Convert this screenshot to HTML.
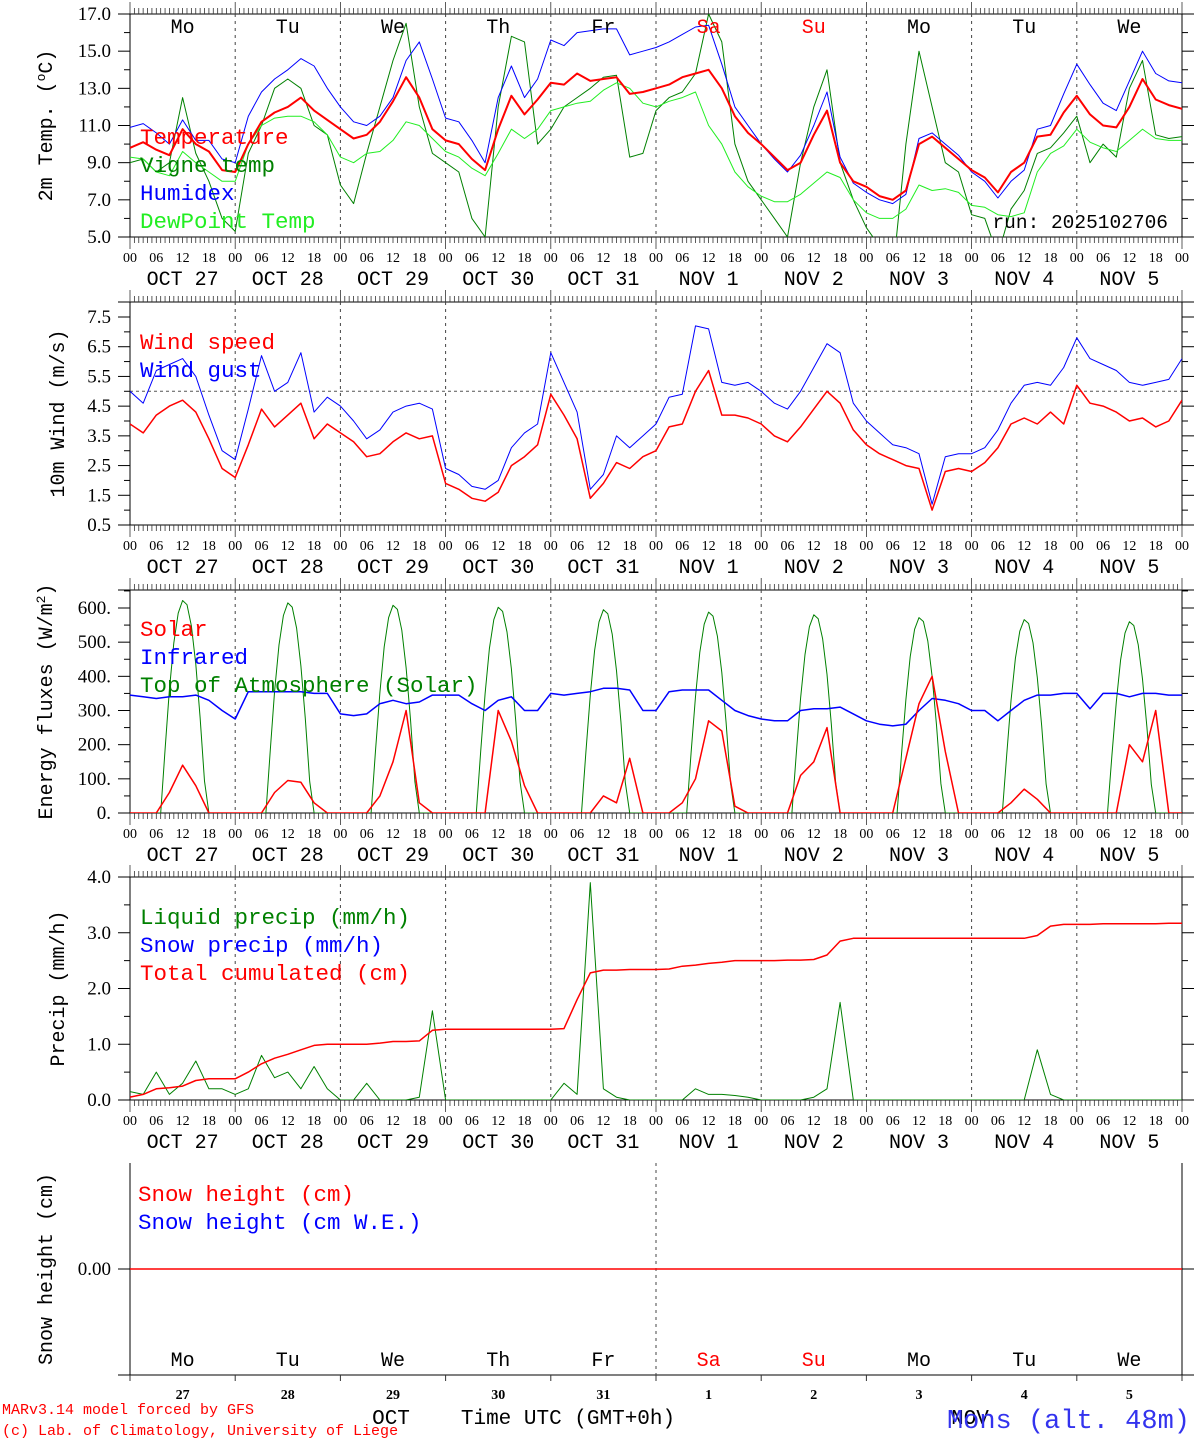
<!DOCTYPE html>
<html><head><meta charset="utf-8">
<style>
html,body{margin:0;padding:0;background:#fff;}
svg{display:block;}
text{font-family:"Liberation Serif",serif;}
.mono{font-family:"Liberation Mono",monospace;}
</style></head>
<body>
<svg id="chart" width="1194" height="1440" viewBox="0 0 1194 1440" xmlns="http://www.w3.org/2000/svg"></svg>
<script>
// ---------- data (3-hourly, hours 0..240 from 27 Oct 00 UTC) ----------
const hours3 = [0,3,6,9,12,15,18,21,24,27,30,33,36,39,42,45,48,51,54,57,60,63,66,69,72,75,78,81,84,87,90,93,96,99,102,105,108,111,114,117,120,123,126,129,132,135,138,141,144,147,150,153,156,159,162,165,168,171,174,177,180,183,186,189,192,195,198,201,204,207,210,213,216,219,222,225,228,231,234,237,240];
const dayNames = ["Mo","Tu","We","Th","Fr","Sa","Su","Mo","Tu","We"];
const dayNums = ["27","28","29","30","31","1","2","3","4","5"];
const dateLabels = ["OCT 27","OCT 28","OCT 29","OCT 30","OCT 31","NOV  1","NOV  2","NOV  3","NOV  4","NOV  5"];
const hourLabels = ["00","06","12","18"];

const temperature = [9.8,10.1,9.7,9.4,10.8,10.0,9.6,8.6,8.5,10.0,11.2,11.7,12.0,12.5,11.8,11.3,10.8,10.3,10.5,11.2,12.3,13.6,12.5,10.8,10.2,10.0,9.2,8.6,10.8,12.6,11.6,12.4,13.3,13.2,13.8,13.4,13.5,13.6,12.7,12.8,13.0,13.2,13.6,13.8,14.0,13.0,11.5,10.6,10.0,9.3,8.6,9.0,10.5,11.8,9.0,8.0,7.7,7.2,7.0,7.5,10.0,10.4,9.8,9.2,8.6,8.2,7.4,8.5,9.0,10.4,10.5,11.7,12.6,11.6,11.0,10.9,12.0,13.5,12.4,12.1,11.9];
const humidex = [10.9,11.1,10.6,10.0,11.3,10.2,10.2,9.2,9.0,11.5,12.8,13.5,14.0,14.6,14.2,13.0,12.0,11.2,11.0,11.5,12.5,14.5,15.5,13.5,11.4,11.2,10.2,9.0,12.5,14.2,12.5,13.5,15.6,15.3,16.0,16.1,16.2,16.2,14.8,15.0,15.2,15.5,15.9,16.3,16.4,14.3,12.0,11.0,10.0,9.2,8.5,9.4,11.0,12.8,9.3,7.9,7.4,7.0,6.8,7.3,10.3,10.6,10.0,9.4,8.5,8.0,7.1,8.0,8.6,10.8,11.0,12.7,14.3,13.2,12.2,11.8,13.4,15.0,13.8,13.4,13.3];
const dewpoint = [9.3,9.2,8.5,8.3,9.6,9.0,8.5,8.0,8.0,10.0,11.0,11.4,11.5,11.5,11.2,10.5,9.3,9.0,9.5,9.6,10.2,11.2,11.0,10.3,9.6,9.3,8.7,8.3,9.5,10.8,10.3,10.8,11.8,12.0,12.2,12.3,12.9,13.3,13.0,12.2,12.0,12.3,12.5,12.8,11.0,10.0,8.5,7.7,7.2,6.9,6.9,7.3,7.9,8.5,8.2,7.0,6.3,6.0,6.0,6.5,7.8,7.5,7.6,7.4,6.7,6.6,6.2,6.1,6.3,8.5,9.5,9.9,10.8,10.1,9.8,9.6,10.2,10.8,10.3,10.2,10.2];
const vigne = [9.0,9.2,8.5,9.0,12.5,9.5,8.0,6.0,5.3,9.5,11.0,13.0,13.5,13.0,11.0,10.5,7.8,6.8,9.5,12.0,14.5,16.5,12.0,9.5,9.0,8.5,6.0,5.0,12.0,15.8,15.5,10.0,10.8,12.0,12.5,13.0,13.6,13.7,9.3,9.5,11.8,12.5,12.8,13.8,17.0,15.5,10.0,8.0,7.0,6.0,5.0,9.0,12.0,14.0,9.0,7.0,5.5,4.5,3.0,10.0,15.0,12.0,9.0,8.5,6.2,6.0,4.0,6.5,7.5,9.5,9.8,10.6,11.5,9.0,10.0,9.3,13.0,14.5,10.5,10.3,10.4];

const windSpeed = [3.9,3.6,4.2,4.5,4.7,4.3,3.4,2.4,2.1,3.2,4.4,3.8,4.2,4.6,3.4,3.9,3.6,3.3,2.8,2.9,3.3,3.6,3.4,3.5,1.9,1.7,1.4,1.3,1.6,2.5,2.8,3.2,4.9,4.2,3.4,1.4,1.9,2.6,2.4,2.8,3.0,3.8,3.9,5.0,5.7,4.2,4.2,4.1,3.9,3.5,3.3,3.8,4.4,5.0,4.6,3.7,3.2,2.9,2.7,2.5,2.4,1.0,2.3,2.4,2.3,2.6,3.1,3.9,4.1,3.9,4.3,3.9,5.2,4.6,4.5,4.3,4.0,4.1,3.8,4.0,4.7];
const windGust = [5.0,4.6,5.7,5.9,6.1,5.5,4.2,3.0,2.7,4.4,6.2,5.0,5.3,6.3,4.3,4.8,4.5,4.0,3.4,3.7,4.3,4.5,4.6,4.4,2.4,2.2,1.8,1.7,2.0,3.1,3.6,3.9,6.3,5.3,4.3,1.7,2.2,3.5,3.1,3.5,3.9,4.8,4.9,7.2,7.1,5.3,5.2,5.3,5.0,4.6,4.4,5.0,5.8,6.6,6.3,4.6,4.0,3.6,3.2,3.1,2.9,1.2,2.8,2.9,2.9,3.1,3.7,4.6,5.2,5.3,5.2,5.8,6.8,6.1,5.9,5.7,5.3,5.2,5.3,5.4,6.1];

const solar = [0,0,0,60,140,80,0,0,0,0,0,60,95,90,30,0,0,0,0,50,150,300,30,0,0,0,0,0,300,210,80,0,0,0,0,0,50,30,160,0,0,0,30,100,270,240,20,0,0,0,0,110,150,250,0,0,0,0,0,160,320,400,180,0,0,0,0,30,70,40,0,0,0,0,0,0,200,150,300,0,0];
const infrared = [345,340,335,340,340,345,330,300,275,355,355,355,355,355,350,350,290,285,290,320,330,320,325,345,345,345,320,300,330,340,300,300,350,345,350,355,365,365,360,300,300,355,360,360,360,330,300,285,275,270,270,300,305,305,310,290,270,260,255,260,300,335,330,320,300,300,270,300,330,345,345,350,350,305,350,350,340,350,350,345,345];
const toaPeak = [622,615,608,602,595,588,580,572,566,560];
const toaHours = [7,8,9,10,11,12,13,14,15,16,17,18];
const toaProfile = [0,0.3,0.58,0.8,0.94,1.0,0.98,0.88,0.7,0.45,0.15,0];

const liquid = [0.15,0.1,0.5,0.1,0.3,0.7,0.2,0.2,0.1,0.2,0.8,0.4,0.5,0.2,0.6,0.2,0,0,0.3,0,0,0,0.05,1.6,0,0,0,0,0,0,0,0,0,0.3,0.1,3.9,0.2,0.05,0,0,0,0,0,0.2,0.1,0.1,0.08,0.05,0,0,0,0,0.05,0.2,1.75,0,0,0,0,0,0,0,0,0,0,0,0,0,0,0.9,0.1,0,0,0,0,0,0,0,0,0,0];
const cumulated = [0.05,0.1,0.2,0.22,0.25,0.35,0.38,0.38,0.38,0.5,0.65,0.75,0.82,0.9,0.98,1.0,1.0,1.0,1.0,1.02,1.05,1.05,1.06,1.25,1.27,1.27,1.27,1.27,1.27,1.27,1.27,1.27,1.27,1.28,1.8,2.28,2.33,2.33,2.34,2.34,2.34,2.35,2.4,2.42,2.45,2.47,2.5,2.5,2.5,2.5,2.51,2.51,2.52,2.6,2.85,2.9,2.9,2.9,2.9,2.9,2.9,2.9,2.9,2.9,2.9,2.9,2.9,2.9,2.9,2.95,3.12,3.15,3.15,3.15,3.16,3.16,3.16,3.16,3.16,3.17,3.17];
const snowHeight = [0,0,0,0,0,0,0,0,0,0,0];
const snowHours = [0,24,48,72,96,120,144,168,192,216,240];

// ---------- drawing ----------
const svg = document.getElementById('chart');
const NS = 'http://www.w3.org/2000/svg';
const X0 = 130, X1 = 1182, H = 240;
function xs(h){ return X0 + h*(X1-X0)/H; }
function mk(tag, attrs, parent){
  const e = document.createElementNS(NS, tag);
  for (const k in attrs) e.setAttribute(k, attrs[k]);
  (parent||svg).appendChild(e); return e;
}
function txt(s, x, y, size, fill, anchor, cls, parent){
  const t = mk('text', {x:x, y:y, 'font-size':size, fill:fill||'#000', 'text-anchor':anchor||'start'}, parent);
  if (cls) t.setAttribute('class', cls);
  t.setAttribute('xml:space','preserve');
  t.textContent = s; return t;
}
const panels = [
  {name:'temperature-panel', top:14, bot:237, min:5, max:17},
  {name:'wind-panel', top:302, bot:525, min:0.5, max:7.83},
  {name:'energy-panel', top:590, bot:813, min:0, max:652},
  {name:'precip-panel', top:877, bot:1100, min:0, max:4.0},
  {name:'snow-panel', top:1163, bot:1375, min:-1, max:1}
];
panels[1].max = 0.5 + (525-302)*(7.0/(525-317));
panels[2].max = 600*(813-590)/(813-608);
function ys(p, v){ return p.bot - (v-p.min)/(p.max-p.min)*(p.bot-p.top); }

function series(p, hs, vals, color, width, name){
  const g = mk('g', {'clip-path':'url(#clip'+panels.indexOf(p)+')'});
  
  
  let d = '';
  hs.forEach((h,i)=>{ d += (i?'L':'M') + xs(h).toFixed(1) + ' ' + ys(p, vals[i]).toFixed(1); });
  const path = mk('path', {d:d, fill:'none', stroke:color, 'stroke-width':width, 'stroke-linejoin':'round'}, g);
  
  
}

const defs = mk('defs', {});
panels.forEach((p,i)=>{
  const cp = mk('clipPath', {id:'clip'+i}, defs);
  mk('rect', {x:X0, y:p.top, width:X1-X0, height:p.bot-p.top}, cp);
});

panels.forEach((p,pi)=>{
  const g = mk('g', {});
  
  
  if (pi < 4) {
    mk('rect', {x:X0, y:p.top, width:X1-X0, height:p.bot-p.top, fill:'none', stroke:'#000', 'stroke-width':1}, g);
    mk('line', {x1:118, y1:p.top, x2:1194, y2:p.top, stroke:'#000'}, g);
    mk('line', {x1:118, y1:p.bot, x2:1194, y2:p.bot, stroke:'#000'}, g);
    for (let h=0; h<=H; h++){
      const x = xs(h); const L = (h%24===0)?12:6;
      mk('line', {x1:x, y1:p.top, x2:x, y2:p.top-L, stroke:'#333', 'stroke-width':0.8}, g);
      mk('line', {x1:x, y1:p.bot, x2:x, y2:p.bot+L, stroke:'#333', 'stroke-width':0.8}, g);
    }
    for (let h=0; h<=H; h+=6){
      txt(hourLabels[(h/6)%4], xs(h), p.bot+25, 14, '#000', 'middle', null, g);
    }
    for (let d=0; d<10; d++){
      txt(dateLabels[d], xs(d*24+12), p.bot+48, 20, '#000', 'middle', 'mono', g);
    }
  } else {
    mk('line', {x1:X0, y1:p.top, x2:X0, y2:p.bot, stroke:'#000'}, g);
    mk('line', {x1:X1, y1:p.top, x2:X1, y2:p.bot, stroke:'#000'}, g);
    mk('line', {x1:118, y1:p.bot, x2:1194, y2:p.bot, stroke:'#000'}, g);
    for (let d=0; d<=10; d++){
      mk('line', {x1:xs(d*24), y1:p.bot, x2:xs(d*24), y2:p.bot+6, stroke:'#333'}, g);
    }
  }
  for (let d=1; d<10; d++){
    if (pi===4 && d!==5) continue;
    mk('line', {x1:xs(d*24), y1:p.top, x2:xs(d*24), y2:p.bot, stroke:'#444', 'stroke-dasharray':'3,4', 'stroke-width':1}, g);
  }
});

function yaxis(p, majors, minors, fmt, title, tx){
  const g = mk('g', {});
  
  
  minors.forEach(v=>{ const y=ys(p,v);
    mk('line',{x1:X0-6,y1:y,x2:X0,y2:y,stroke:'#000'},g);
    mk('line',{x1:X1,y1:y,x2:X1+6,y2:y,stroke:'#000'},g); });
  majors.forEach(v=>{ const y=ys(p,v);
    mk('line',{x1:X0-12,y1:y,x2:X0,y2:y,stroke:'#000'},g);
    mk('line',{x1:X1,y1:y,x2:X1+12,y2:y,stroke:'#000'},g);
    txt(fmt(v), 111, y+6, 19, '#000', 'end', null, g); });
  const t = txt(title, 0, 0, 20, '#000', 'middle', 'mono', g);
  t.setAttribute('transform', 'translate('+tx+','+((p.top+p.bot)/2)+') rotate(-90)');
  return t;
}
const r = (a,b,s)=>{const o=[];for(let v=a;v<=b+1e-9;v+=s)o.push(+v.toFixed(3));return o;};
const t1 = yaxis(panels[0], r(5,17,2), r(6,16,2), v=>v.toFixed(1), '', 52);
t1.innerHTML = '2m Temp. (<tspan font-size="13" dy="-7">o</tspan><tspan dy="7">C)</tspan>';
yaxis(panels[1], r(0.5,7.5,1), r(1,7,1), v=>v.toFixed(1), '10m Wind (m/s)', 64);
const t3 = yaxis(panels[2], r(0,600,100), r(50,650,100), v=>v.toFixed(0)+'.', '', 52);
t3.innerHTML = 'Energy fluxes (W/m<tspan font-size="13" dy="-7">2</tspan><tspan dy="7">)</tspan>';
yaxis(panels[3], r(0,4,1), r(0.5,3.5,1), v=>v.toFixed(1), 'Precip (mm/h)', 64);
yaxis(panels[4], [0], [], v=>v.toFixed(2), 'Snow height (cm)', 52);

const P = panels;
series(P[0], hours3, vigne, '#008000', 1, 'vigne-temp');
series(P[0], hours3, dewpoint, '#22ee22', 1, 'dewpoint-temp');
series(P[0], hours3, humidex, '#0000ff', 1, 'humidex');
series(P[0], hours3, temperature, '#ff0000', 2, 'temperature');
mk('line',{x1:X0,y1:ys(P[1],5),x2:X1,y2:ys(P[1],5),stroke:'#555','stroke-dasharray':'3,3'});
series(P[1], hours3, windGust, '#0000ff', 1, 'wind-gust');
series(P[1], hours3, windSpeed, '#ff0000', 1.5, 'wind-speed');
const toaH = [], toaV = [];
toaH.push(0); toaV.push(0);
for (let d=0; d<10; d++){
  toaHours.forEach((h,i)=>{ toaH.push(d*24+h); toaV.push(toaPeak[d]*toaProfile[i]); });
}
toaH.push(240); toaV.push(0);
series(P[2], toaH, toaV, '#008000', 1, 'toa-solar');
series(P[2], hours3, infrared, '#0000ff', 1.5, 'infrared');
series(P[2], hours3, solar, '#ff0000', 1.5, 'solar');
series(P[3], hours3, liquid, '#008000', 1, 'liquid-precip');
series(P[3], hours3, cumulated, '#ff0000', 1.5, 'total-cumulated');
series(P[4], snowHours, snowHeight, '#ff0000', 1.5, 'snow-height');

function legend(items, x, y0, step, name){
  const g = mk('g', {});
  
  
  items.forEach((it,i)=>{
    txt(it[0], x, y0+i*step, 22.5, it[1], 'start', 'mono', g);
  });
}
legend([['Temperature','#ff0000'],['Vigne temp','#008000'],['Humidex','#0000ff'],['DewPoint Temp','#22ee22']], 140, 144, 28, 'temperature-legend');
legend([['Wind speed','#ff0000'],['Wind gust','#0000ff']], 140, 349, 28, 'wind-legend');
legend([['Solar','#ff0000'],['Infrared','#0000ff'],['Top of Atmosphere (Solar)','#008000']], 140, 636, 28, 'energy-legend');
legend([['Liquid precip (mm/h)','#008000'],['Snow precip (mm/h)','#0000ff'],['Total cumulated (cm)','#ff0000']], 140, 924, 28, 'precip-legend');
legend([['Snow height (cm)','#ff0000'],['Snow height (cm W.E.)','#0000ff']], 138, 1201, 28, 'snow-legend');
const run = txt('run: 2025102706', 1168, 228, 19.5, '#000', 'end', 'mono');


for (let d=0; d<10; d++){
  const c = (d===5||d===6)?'#ff0000':'#000';
  const a = txt(dayNames[d], xs(d*24+12), 33, 20, c, 'middle', 'mono');
  
  const b = txt(dayNames[d], xs(d*24+12), 1366, 20, c, 'middle', 'mono');
  
  const n = txt(dayNums[d], xs(d*24+12), 1399, 14, '#000', 'middle');
  n.setAttribute('font-weight','bold');
  
}
txt('OCT', 391, 1424, 21, '#000', 'middle', 'mono');
txt('NOV', 970, 1424, 21, '#000', 'middle', 'mono');
txt('Time UTC (GMT+0h)', 568, 1424, 21, '#000', 'middle', 'mono');
txt('Mons (alt. 48m)', 1190, 1428, 27, '#3333ee', 'end', 'mono');
txt('MARv3.14 model forced by GFS', 2, 1414, 15, '#ff0000', 'start', 'mono');
txt('(c) Lab. of Climatology, University of Liege', 2, 1435, 15, '#ff0000', 'start', 'mono');
</script>
</body></html>
